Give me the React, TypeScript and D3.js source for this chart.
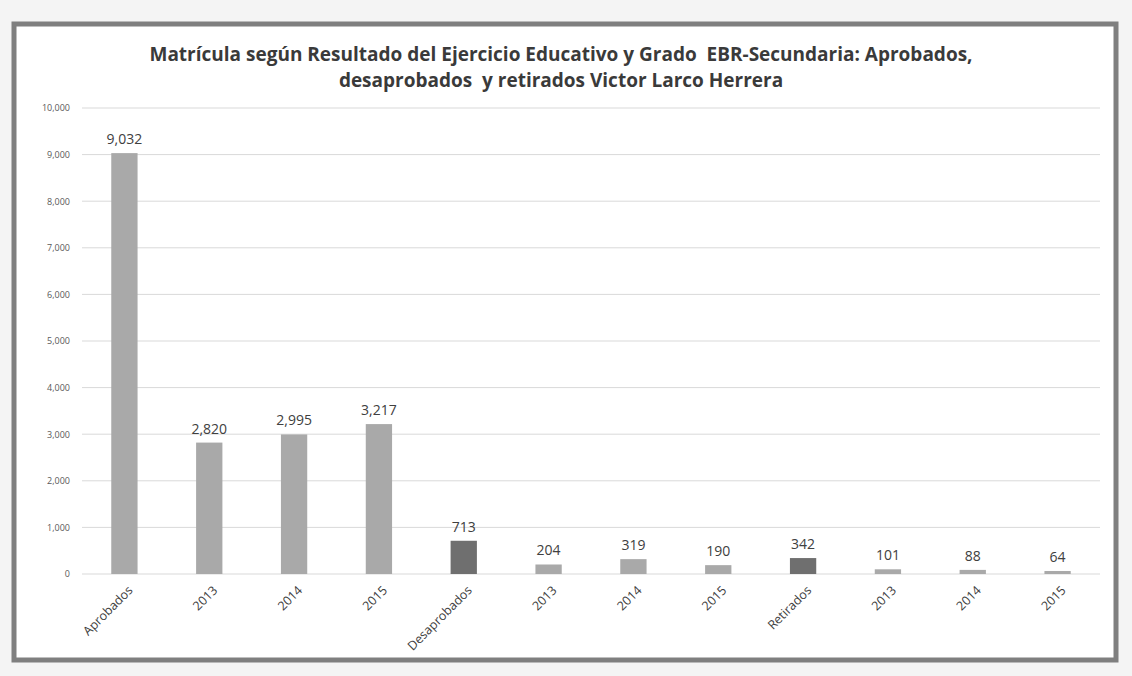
import React, { useRef, useEffect } from 'react';
import * as d3 from 'd3';

const categories = [
  'Aprobados', '2013', '2014', '2015',
  'Desaprobados', '2013', '2014', '2015',
  'Retirados', '2013', '2014', '2015',
];
const values = [9032, 2820, 2995, 3217, 713, 204, 319, 190, 342, 101, 88, 64];
const totalIdx = [4, 8]; // darker bars
const yTicks = [0, 1000, 2000, 3000, 4000, 5000, 6000, 7000, 8000, 9000, 10000];
const titleLines = [
  'Matrícula según Resultado del Ejercicio Educativo y Grado  EBR-Secundaria: Aprobados,',
  'desaprobados  y retirados Victor Larco Herrera',
];

const W = 1132;
const H = 676;
const margin = { top: 108, right: 32, bottom: 102, left: 82 };
const font = '"Open Sans", Lato, sans-serif';

const App: React.FC = () => {
  const svgRef = useRef<SVGSVGElement | null>(null);

  useEffect(() => {
    if (!svgRef.current) return;
    const svg = d3.select(svgRef.current);
    svg.selectAll('*').remove();

    const chartW = W - margin.left - margin.right;
    const chartH = H - margin.top - margin.bottom;

    svg.append('rect').attr('width', W).attr('height', H).attr('fill', '#f4f4f4');

    // frame
    svg.append('rect')
      .attr('x', 14).attr('y', 24)
      .attr('width', 1102).attr('height', 636)
      .attr('fill', '#ffffff')
      .attr('stroke', '#7f7f7f')
      .attr('stroke-width', 5);

    // title
    svg.append('g')
      .selectAll('text')
      .data(titleLines)
      .join('text')
      .attr('x', 561)
      .attr('y', (_, i) => 61 + i * 26)
      .attr('text-anchor', 'middle')
      .attr('font-family', font)
      .attr('font-weight', 'bold')
      .attr('font-size', 19)
      .attr('fill', '#3a3a3a')
      .style('white-space', 'pre')
      .text(d => d);

    const g = svg.append('g')
      .attr('transform', `translate(${margin.left},${margin.top})`);

    const x = d3.scaleBand<number>()
      .domain(d3.range(categories.length))
      .range([0, chartW])
      .paddingInner(0.69)
      .paddingOuter(0.345);

    const y = d3.scaleLinear().domain([0, 10000]).range([chartH, 0]);

    // gridlines
    g.append('g')
      .selectAll('line')
      .data(yTicks)
      .join('line')
      .attr('x1', 0).attr('x2', chartW)
      .attr('y1', d => y(d)).attr('y2', d => y(d))
      .attr('stroke', '#d9d9d9')
      .attr('stroke-width', 1);

    // y axis labels
    const yAxis = g.append('g')
      .call(d3.axisLeft(y).tickValues(yTicks).tickSize(0).tickPadding(12).tickFormat(d3.format(',')));
    yAxis.select('.domain').remove();
    yAxis.selectAll('text')
      .attr('font-family', font)
      .attr('font-size', 9)
      .attr('fill', '#595959');

    // bars
    g.append('g')
      .selectAll('rect')
      .data(values)
      .join('rect')
      .attr('x', (_, i) => x(i)!)
      .attr('y', d => y(d))
      .attr('width', x.bandwidth())
      .attr('height', d => chartH - y(d))
      .attr('fill', (_, i) => (totalIdx.includes(i) ? '#6f6f6f' : '#a9a9a9'));

    // data labels
    g.append('g')
      .selectAll('text')
      .data(values)
      .join('text')
      .attr('x', (_, i) => x(i)! + x.bandwidth() / 2)
      .attr('y', d => y(d) - 9)
      .attr('text-anchor', 'middle')
      .attr('font-family', font)
      .attr('font-size', 14)
      .attr('fill', '#404040')
      .text(d => d3.format(',')(d));

    // x axis labels
    g.append('g')
      .selectAll('text')
      .data(categories)
      .join('text')
      .attr('transform', (_, i) => `translate(${x(i)! + x.bandwidth() / 2 + 6},${chartH + 14}) rotate(-45)`)
      .attr('text-anchor', 'end')
      .attr('dy', '0.35em')
      .attr('font-family', font)
      .attr('font-size', 12.5)
      .attr('fill', '#404040')
      .text(d => d);

    return () => {
      d3.select(svgRef.current).selectAll('*').remove();
    };
  }, []);

  return (
    <div style={{ position: 'absolute', left: 0, top: 0 }}>
      <svg ref={svgRef} width={W} height={H}></svg>
    </div>
  );
};

export default App;
